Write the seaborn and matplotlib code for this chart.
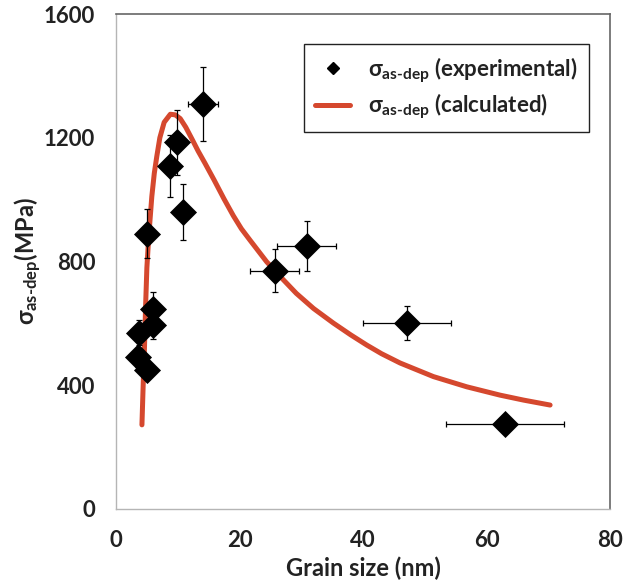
import numpy as np
import pandas as pd
import seaborn as sns
import matplotlib.pyplot as plt
from matplotlib.lines import Line2D

# experimental points (grain size nm, stress MPa) with error bars
grain = [3.8, 3.6, 5.0, 6.0, 6.0, 5.0, 8.7, 9.9, 10.8, 14.1, 25.7, 30.9, 47.1, 63.0]
stress = [570, 490, 450, 645, 595, 890, 1110, 1185, 960, 1310, 770, 850, 600, 275]
stress_err = [40, 30, 30, 55, 45, 80, 100, 105, 90, 120, 70, 80, 55, 0]
grain_err = [0.4, 0.4, 0.4, 0.4, 0.4, 0.4, 0.4, 0.4, 0.4, 2.4, 4.0, 4.8, 7.1, 9.5]

# calculated curve
calc_d = [4.2, 4.4, 4.6, 4.8, 5.0, 5.3, 5.8, 6.2, 6.6, 7.1, 7.8, 8.8, 9.6, 10.4, 11.3,
          12.3, 13.3, 14.4, 15.9, 17.5, 19.0, 20.3, 21.7, 24.4, 27.0, 29.2, 32.0, 35.2,
          38.0, 40.6, 43.0, 46.0, 51.4, 56.8, 62.2, 66.0, 70.3]
calc_s = [272, 400, 514, 660, 780, 880, 1010, 1085, 1139, 1200, 1250, 1276, 1274, 1262, 1234,
          1196, 1157, 1118, 1063, 1002, 948, 906, 869, 799, 743, 697, 648, 601,
          563, 530, 502, 472, 428, 395, 368, 352, 336]

exp_df = pd.DataFrame({"d": grain, "s": stress})
calc_df = pd.DataFrame({"d": calc_d, "s": calc_s})

sns.set_style("white")
plt.rcParams['font.family'] = ['Lato', 'DejaVu Sans']
plt.rcParams['font.weight'] = 'bold'
plt.rcParams['mathtext.fontset'] = 'custom'
plt.rcParams['mathtext.rm'] = 'Lato:bold'
plt.rcParams['mathtext.it'] = 'Lato:bold'
plt.rcParams['mathtext.bf'] = 'Lato:bold'

red = '#d5482e'

fig = plt.figure(figsize=(6.25, 5.86), dpi=100)
ax = fig.add_axes([0.1856, 0.1314, 0.7904, 0.8447])

sns.lineplot(data=calc_df, x="d", y="s", color=red, linewidth=3.6, ax=ax,
             sort=False, zorder=2)
ax.errorbar(grain, stress, xerr=grain_err, yerr=stress_err, fmt='none',
            ecolor='black', elinewidth=0.9, capsize=2.5, capthick=0.9, zorder=3)
sns.scatterplot(data=exp_df, x="d", y="s", marker='D', s=190, color='black',
                edgecolor='black', linewidth=0, ax=ax, zorder=4)

ax.set_xlim(0, 80)
ax.set_ylim(0, 1600)
ax.set_xticks([0, 20, 40, 60, 80])
ax.set_yticks([0, 400, 800, 1200, 1600])
ax.tick_params(axis='both', labelsize=16, length=5, width=0.8, color='#b0b0b0',
               direction='out')
ax.tick_params(axis='y', pad=10)
ax.tick_params(axis='x', pad=10)
for lab in ax.get_xticklabels() + ax.get_yticklabels():
    lab.set_fontweight('bold')
    lab.set_color('#222222')

for side in ['left', 'bottom']:
    ax.spines[side].set_color('#b5b5b5')
    ax.spines[side].set_linewidth(1.0)
for side in ['top', 'right']:
    ax.spines[side].set_color('#666666')
    ax.spines[side].set_linewidth(1.2)

ax.set_xlabel('Grain size (nm)', fontsize=17, fontweight='bold', labelpad=4, color='#222222')
ax.set_ylabel(r'$\sigma_{\text{as-dep}}$(MPa)', fontsize=17, fontweight='bold', labelpad=0,
              color='#222222')

handles = [Line2D([], [], marker='D', color='black', linestyle='none', markersize=6),
           Line2D([], [], color=red, linewidth=3.6)]
labels = [r'$\sigma_{\text{as-dep}}$ (experimental)', r'$\sigma_{\text{as-dep}}$ (calculated)']
leg = ax.legend(handles, labels, loc='upper right', bbox_to_anchor=(0.98, 0.962),
                fontsize=16, fancybox=False, framealpha=1, edgecolor='#222222',
                handlelength=1.6, borderpad=0.5, labelspacing=0.3)
leg.get_frame().set_linewidth(1.0)
for t in leg.get_texts():
    t.set_fontweight('bold')
    t.set_color('#222222')

fig.savefig("out.png", dpi=100)
